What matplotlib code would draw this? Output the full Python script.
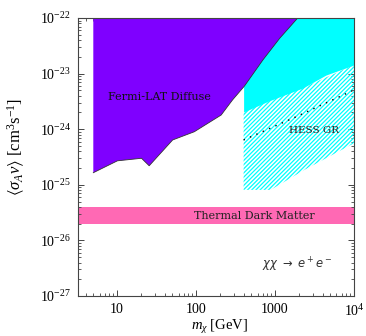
import matplotlib
matplotlib.use("Agg")
import matplotlib.pyplot as plt
from matplotlib.ticker import LogLocator, FixedLocator, NullFormatter, FixedFormatter
import numpy as np

plt.rcParams['mathtext.fontset'] = 'custom'
plt.rcParams['mathtext.rm'] = 'Liberation Serif'
plt.rcParams['mathtext.it'] = 'Liberation Serif:italic'
plt.rcParams['mathtext.bf'] = 'Liberation Serif:bold'
plt.rcParams['mathtext.fallback'] = 'stix'
plt.rcParams['font.family'] = ['Liberation Serif', 'DejaVu Serif']
plt.rcParams['hatch.color'] = '#00FFFF'
plt.rcParams['hatch.linewidth'] = 0.9

# --- data ---
fermi_mass = [5.0, 10.1, 20.4, 25.5, 50.5, 95, 208, 289, 411, 702, 1143, 1937]
fermi_sv = [1.65e-25, 2.7e-25, 3.0e-25, 2.2e-25, 6.4e-25, 9.0e-25, 1.8e-24,
            3.35e-24, 6.0e-24, 1.76e-23, 4.3e-23, 1e-22]

hess_mass = [400, 853, 2240, 4400, 10000]
hess_sv = [2.04e-24, 3.26e-24, 5.5e-24, 9.4e-24, 1.43e-23]

hess_band_mass = [400, 880, 2380, 10000]
hess_band_low = [8.1e-26, 8.1e-26, 1.87e-25, 5.6e-25]

hess_dot_mass = [400, 1690, 9500]
hess_dot_sv = [6.4e-25, 1.58e-24, 4.9e-24]

thermal_low = 2.0e-26
thermal_high = 4.0e-26

xlim = (3.2, 1e4)
ylim = (1e-27, 1e-22)
xticks = [10, 100, 1000, 10000]
xticklabels = ['10', '100', '1000', r'$10^4$']
yticks = [1e-27, 1e-26, 1e-25, 1e-24, 1e-23, 1e-22]
yticklabels = [r'$10^{-27}$', r'$10^{-26}$', r'$10^{-25}$', r'$10^{-24}$', r'$10^{-23}$', r'$10^{-22}$']

fig = plt.figure(figsize=(3.66, 3.36), dpi=100)
ax = fig.add_axes([78/366, 1-296/336, (354-78)/366, (296-18)/336])
ax.set_xscale('log')
ax.set_yscale('log')
ax.set_xlim(*xlim)
ax.set_ylim(*ylim)

# thermal band
ax.fill_between(xlim, [thermal_low]*2, [thermal_high]*2, color='#FF69B4', lw=0, zorder=1)

# HESS hatched region (upper edge follows the solid-region boundary)
band_high = [10**np.interp(np.log10(m), np.log10(hess_mass), np.log10(hess_sv))
             for m in hess_band_mass]
ax.fill_between(hess_band_mass, hess_band_low, band_high,
                facecolor='none', edgecolor='#00FFFF', hatch='////////', lw=0, zorder=2)

# HESS solid region
ax.fill_between(hess_mass, hess_sv, [ylim[1]]*len(hess_mass), color='#00FFFF', lw=0, zorder=3)

# Fermi region
ax.fill_between(fermi_mass, fermi_sv, [ylim[1]]*len(fermi_mass), facecolor='#7F00FF',
                edgecolor='none', lw=0, zorder=4)
ax.plot(fermi_mass, fermi_sv, color='#333333', lw=0.6, zorder=5)

# dotted line
ax.plot(hess_dot_mass, hess_dot_sv, color='black', lw=1.0, ls=(0, (1, 4)), zorder=6)

# texts
ax.text(34.2, 3.8e-24, 'Fermi-LAT Diffuse', ha='center', va='center', fontsize=8,
        family='DejaVu Serif', color='#111111', zorder=7)
ax.text(3090, 9.3e-25, 'HESS GR', ha='center', va='center', fontsize=7.5,
        family='DejaVu Serif', color='#222222', zorder=7)
ax.text(551, 2.8e-26, 'Thermal Dark Matter', ha='center', va='center', fontsize=8,
        family='DejaVu Serif', color='#222222', zorder=7)
t = ax.text(1937, 3.6e-27, r'$\chi\chi\ \rightarrow\ e^+e^-$', ha='center', va='center',
            fontsize=8.3, color='#333333', zorder=7)
t.set_math_fontfamily('dejavusans')

# ticks
ax.xaxis.set_major_locator(FixedLocator(xticks))
ax.xaxis.set_major_formatter(FixedFormatter(xticklabels))
ax.xaxis.set_minor_locator(LogLocator(base=10, subs=np.arange(2, 10), numticks=20))
ax.xaxis.set_minor_formatter(NullFormatter())
ax.yaxis.set_major_locator(FixedLocator(yticks))
ax.yaxis.set_major_formatter(FixedFormatter(yticklabels))
ax.yaxis.set_minor_locator(LogLocator(base=10, subs=np.arange(2, 10), numticks=20))
ax.yaxis.set_minor_formatter(NullFormatter())
ax.tick_params(which='both', direction='in', top=True, right=True, color='#444444')
ax.tick_params(which='major', length=4.5, width=0.7, labelsize=10, pad=5)
ax.tick_params(which='minor', length=2.2, width=0.6)
for s in ax.spines.values():
    s.set_linewidth(0.8)
    s.set_color('#444444')
    s.set_zorder(10)

ax.set_xlabel(r'$m_\chi\ [\mathrm{GeV}]$', fontsize=10.5)
ax.set_ylabel(r'$\langle\sigma_A v\rangle\ [\mathrm{cm}^3\mathrm{s}^{-1}]$', fontsize=12)
ax.xaxis.set_label_coords(0.514, -0.078)
ax.yaxis.set_label_coords(-0.183, 0.535)

fig.savefig('out.png', dpi=100)
